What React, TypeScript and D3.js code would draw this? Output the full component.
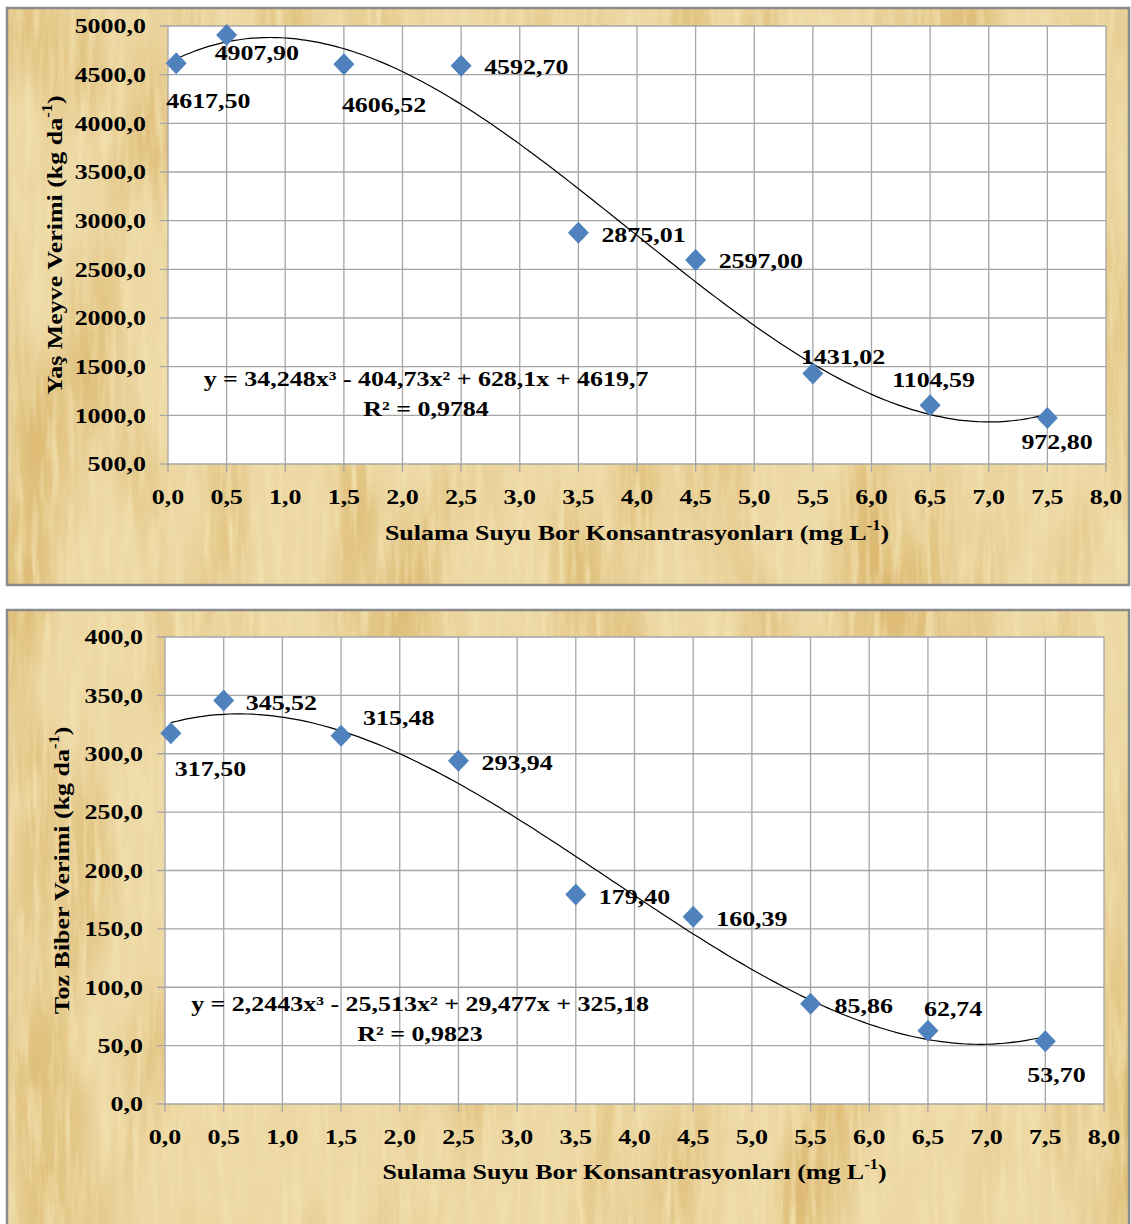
import React from "react";
import * as d3 from "d3";

// ---------- data ----------
const xValues = [0.07, 0.5, 1.5, 2.5, 3.5, 4.5, 5.5, 6.5, 7.5];
const xValues2 = [0.05, 0.5, 1.5, 2.5, 3.5, 4.5, 5.5, 6.5, 7.5];
const freshYield = [4617.5, 4907.9, 4606.52, 4592.7, 2875.01, 2597.0, 1431.02, 1104.59, 972.8];
const freshLabels = ["4617,50", "4907,90", "4606,52", "4592,70", "2875,01", "2597,00", "1431,02", "1104,59", "972,80"];
const powderYield = [317.5, 345.52, 315.48, 293.94, 179.4, 160.39, 85.86, 62.74, 53.7];
const powderLabels = ["317,50", "345,52", "315,48", "293,94", "179,40", "160,39", "85,86", "62,74", "53,70"];
const freshCoef = [34.248, -404.73, 628.1, 4619.7];
const powderCoef = [2.2443, -25.513, 29.477, 325.18];
const xTicks = [0, 0.5, 1, 1.5, 2, 2.5, 3, 3.5, 4, 4.5, 5, 5.5, 6, 6.5, 7, 7.5, 8];
const freshYTicks = [500, 1000, 1500, 2000, 2500, 3000, 3500, 4000, 4500, 5000];
const powderYTicks = [0, 50, 100, 150, 200, 250, 300, 350, 400];
const freshEq = "y = 34,248x³ - 404,73x² + 628,1x + 4619,7";
const freshR2 = "R² = 0,9784";
const powderEq = "y = 2,2443x³ - 25,513x² + 29,477x + 325,18";
const powderR2 = "R² = 0,9823";
const xTitle = "Sulama Suyu Bor Konsantrasyonları (mg L";
const freshYTitle = "Yaş Meyve Verimi (kg da";
const powderYTitle = "Toz Biber Verimi (kg da";

// label offsets (layout)
const freshOffsets = [[-10, 37], [-12, 18], [-2, 40], [23, 1], [23, 2], [23, 1], [-12, -17], [-38, -25], [-26, 24]];
const powderOffsets = [[4, 35], [22, 2], [22, -18], [23, 2], [23, 2], [23, 2], [24, 2], [-4, -22], [-18, 33]];

const FONT = "'Liberation Serif', Tinos, 'Times New Roman', 'DejaVu Serif', serif";
const SX = 1.18;

function T({ x, y, anchor = "start", size = 22, children, rotate = 0, sx = SX }: any) {
  return (
    <text
      transform={`translate(${x},${y}) rotate(${rotate}) scale(${sx},1)`}
      textAnchor={anchor}
      fontSize={size}
      fontWeight="bold"
      fontFamily={FONT}
      dominantBaseline="central"
      fill="#000"
    >
      {children}
    </text>
  );
}

function Panel({ cfg }: any) {
  const { box, plot, yDomain, yTicks, xs, ys, labels, offsets, coef, eq, r2, eqPos, yTitle, yTitleX, xTitleY, xLabelY, yLabelX, fmtY } = cfg;
  const x = d3.scaleLinear().domain([0, 8]).range([plot.l, plot.r]);
  const y = d3.scaleLinear().domain(yDomain).range([plot.b, plot.t]);
  const f = (v: number) => coef[0] * v ** 3 + coef[1] * v ** 2 + coef[2] * v + coef[3];
  const samples = d3.range(xs[0], 7.5001, 0.05);
  const line = d3.line<number>().x((v) => x(v)).y((v) => y(f(v))).curve(d3.curveBasis);
  const id = cfg.id;
  return (
    <g>
      <defs>
        <clipPath id={`clip-${id}`}>
          <rect x={box.x} y={box.y} width={box.w} height={box.h} />
        </clipPath>
      </defs>
      <rect x={box.x} y={box.y} width={box.w} height={box.h} fill="#EDD8A4" />
      <g clipPath={`url(#clip-${id})`}>
        <rect x={box.x} y={box.y} width={box.w} height={box.h} fill="#fff" filter="url(#patch)" />
        <rect x={box.x} y={box.y} width={box.w} height={box.h} fill="#fff" filter="url(#fiber)" />
      </g>
      <rect x={box.x} y={box.y} width={box.w} height={box.h} fill="none" stroke="#8a8a8a" strokeWidth={2.5} />
      <rect x={plot.l} y={plot.t} width={plot.r - plot.l} height={plot.b - plot.t} fill="#fff" />
      {/* grid */}
      {xTicks.map((t) => (
        <line key={"gx" + t} x1={x(t)} x2={x(t)} y1={plot.t} y2={plot.b + 8} stroke="#a6a6a6" strokeWidth={1.3} />
      ))}
      {yTicks.map((t: number) => (
        <line key={"gy" + t} x1={plot.l - 8} x2={plot.r} y1={y(t)} y2={y(t)} stroke="#a6a6a6" strokeWidth={1.3} />
      ))}
      {/* tick labels */}
      {yTicks.map((t: number) => (
        <T key={"ly" + t} x={yLabelX} y={y(t)} anchor="end">{fmtY(t)}</T>
      ))}
      {xTicks.map((t) => (
        <T key={"lx" + t} x={x(t)} y={xLabelY} anchor="middle">{d3.format(".1f")(t).replace(".", ",")}</T>
      ))}
      {/* trendline */}
      <path d={line(samples) || ""} fill="none" stroke="#000" strokeWidth={1.2} />
      {/* points */}
      {xs.map((v: number, i: number) => (
        <path key={"p" + i} transform={`translate(${x(v)},${y(ys[i])})`} d="M0,-11L10.5,0L0,11L-10.5,0Z" fill="#4F81BD" />
      ))}
      {xs.map((v: number, i: number) => (
        <T key={"dl" + i} x={x(v) + offsets[i][0]} y={y(ys[i]) + offsets[i][1]}>{labels[i]}</T>
      ))}
      {/* equation */}
      <T x={eqPos[0]} y={eqPos[1]} anchor="middle">{eq}</T>
      <T x={eqPos[0]} y={eqPos[1] + 30} anchor="middle">{r2}</T>
      {/* axis titles */}
      <text
        transform={`translate(${yTitleX},${(plot.t + plot.b) / 2}) rotate(-90) scale(${SX},1)`}
        textAnchor="middle" fontSize={22} fontWeight="bold" fontFamily={FONT} dominantBaseline="central"
      >
        {yTitle}
        <tspan fontSize={14} dy={-8}>-1</tspan>
        <tspan dy={8}>)</tspan>
      </text>
      <text
        transform={`translate(${(plot.l + plot.r) / 2},${xTitleY}) scale(${SX},1)`}
        textAnchor="middle" fontSize={22} fontWeight="bold" fontFamily={FONT} dominantBaseline="central"
      >
        {xTitle}
        <tspan fontSize={14} dy={-8}>-1</tspan>
        <tspan dy={8}>)</tspan>
      </text>
    </g>
  );
}

export default function App() {
  const fmt = (t: number) => d3.format(".1f")(t).replace(".", ",");
  const p1 = {
    id: "a",
    box: { x: 7, y: 8, w: 1122, h: 577 },
    plot: { l: 168, r: 1106, t: 26, b: 464 },
    yDomain: [500, 5000], yTicks: freshYTicks, xs: xValues, ys: freshYield, labels: freshLabels, offsets: freshOffsets,
    coef: freshCoef, eq: freshEq, r2: freshR2, eqPos: [426, 379], yTitle: freshYTitle, yTitleX: 55, xTitleY: 533, xLabelY: 497, yLabelX: 146, fmtY: fmt,
  };
  const p2 = {
    id: "b",
    box: { x: 7, y: 610, w: 1122, h: 630 },
    plot: { l: 165, r: 1104, t: 637, b: 1104 },
    yDomain: [0, 400], yTicks: powderYTicks, xs: xValues2, ys: powderYield, labels: powderLabels, offsets: powderOffsets,
    coef: powderCoef, eq: powderEq, r2: powderR2, eqPos: [420, 1004], yTitle: powderYTitle, yTitleX: 62, xTitleY: 1172, xLabelY: 1137, yLabelX: 143, fmtY: fmt,
  };
  return (
    <svg width={1131} height={1224} style={{ position: "absolute", left: 0, top: 0, background: "#fff" }}>
      <defs>
        <filter id="patch" x="0" y="0" width="100%" height="100%" colorInterpolationFilters="sRGB">
          <feTurbulence type="fractalNoise" baseFrequency="0.012 0.004" numOctaves="2" seed="7" result="n" />
          <feColorMatrix in="n" type="matrix" values="0 0 0 0 0.85  0 0 0 0 0.70  0 0 0 0 0.40  2.4 0 0 0 -1.05" />
        </filter>
        <filter id="fiber" x="0" y="0" width="100%" height="100%" colorInterpolationFilters="sRGB">
          <feTurbulence type="fractalNoise" baseFrequency="0.12 0.012" numOctaves="3" seed="3" result="n" />
          <feColorMatrix in="n" type="matrix" values="0 0 0 0 0.95  0 0 0 0 0.88  0 0 0 0 0.68  2.2 0 0 0 -0.95" />
        </filter>
      </defs>
      <Panel cfg={p1} />
      <Panel cfg={p2} />
    </svg>
  );
}
